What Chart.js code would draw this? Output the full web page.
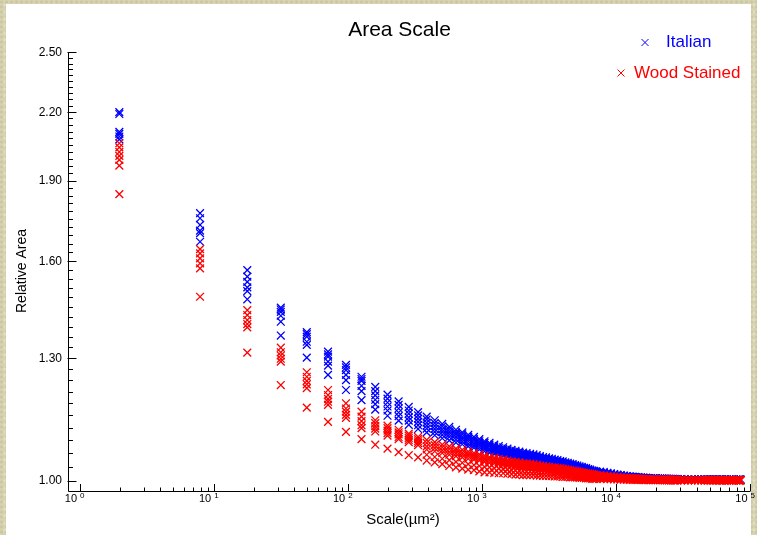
<!DOCTYPE html>
<html>
<head>
<meta charset="utf-8">
<script src="https://cdn.jsdelivr.net/npm/chart.js@4.4.0/dist/chart.umd.min.js"></script>
<style>
  html, body { margin: 0; padding: 0; }
  body {
    width: 757px; height: 535px; position: relative; overflow: hidden;
    background-color: #d7d3b0;
    background-image:
      radial-gradient(circle at 30% 40%, rgba(150,140,100,0.18) 0 1px, transparent 2px),
      radial-gradient(circle at 70% 70%, rgba(255,255,240,0.25) 0 1px, transparent 2px);
    background-size: 5px 5px, 7px 7px;
  }
  #panel { position: absolute; left: 6px; top: 4px; width: 745px; height: 531px; background: #fff; }
  #wrap { position: absolute; left: 0; top: 0; width: 757px; height: 535px; }
</style>
</head>
<body>
<div id="panel"></div>
<div id="wrap"><canvas id="grafica" width="757" height="535"></canvas></div>
<script>
// escala (um^2) de cada columna de puntos
const scaleX = [1.98, 7.92, 17.82, 31.68, 49.5, 71.28, 97.02, 126.7, 160.4, 198,
  239.6, 285.1, 334.6, 388.1, 445.5, 506.9, 572.2, 641.5, 714.8, 792,
  873.2, 958.3, 1047, 1140, 1238, 1338, 1443, 1552, 1665, 1782,
  1903, 2028, 2156, 2289, 2426, 2566, 2711, 2859, 3012, 3168,
  3328, 3493, 3661, 3833, 4010, 4190, 4374, 4562, 4754, 4950,
  5150, 5354, 5562, 5774, 5990, 6209, 6433, 6661, 6892, 7128,
  7611, 8110, 8625, 9156, 9702, 10264, 10842, 11436, 12046, 12672,
  13314, 13971, 14644, 15333, 16038, 16759, 17495, 18248, 19016, 19800,
  20600, 21416, 22247, 23095, 23958, 24837, 25732, 26643, 27570, 28512,
  30444, 32440, 34500, 36622, 38808, 41057, 43370, 45746, 48185, 50688,
  53254, 55884, 58576, 61332, 64152, 67035, 69981, 72991, 76064, 79200,
  82400, 84841];

// area relativa, una fila por columna
const italian = [
  [2.200, 2.191, 2.109, 2.100, 2.088, 2.075],
  [1.772, 1.753, 1.728, 1.707, 1.698, 1.667],
  [1.569, 1.547, 1.530, 1.512, 1.500, 1.474],
  [1.448, 1.442, 1.435, 1.423, 1.405, 1.364],
  [1.374, 1.368, 1.361, 1.346, 1.337, 1.301],
  [1.318, 1.310, 1.304, 1.290, 1.279, 1.254],
  [1.281, 1.274, 1.267, 1.254, 1.240, 1.214],
  [1.249, 1.243, 1.238, 1.225, 1.211, 1.188],
  [1.222, 1.211, 1.200, 1.189, 1.178, 1.164],
  [1.202, 1.192, 1.182, 1.172, 1.162, 1.149],
  [1.185, 1.176, 1.167, 1.157, 1.148, 1.137],
  [1.171, 1.162, 1.154, 1.145, 1.137, 1.127],
  [1.158, 1.150, 1.142, 1.134, 1.126, 1.117],
  [1.147, 1.140, 1.132, 1.125, 1.118, 1.109],
  [1.138, 1.131, 1.124, 1.117, 1.110, 1.102],
  [1.129, 1.123, 1.116, 1.110, 1.103, 1.095],
  [1.122, 1.116, 1.110, 1.104, 1.098, 1.090],
  [1.115, 1.109, 1.104, 1.098, 1.092, 1.085],
  [1.109, 1.104, 1.098, 1.093, 1.087, 1.081],
  [1.103, 1.098, 1.093, 1.088, 1.082, 1.076],
  [1.098, 1.093, 1.088, 1.083, 1.078, 1.073],
  [1.093, 1.088, 1.084, 1.079, 1.074, 1.069],
  [1.088, 1.084, 1.079, 1.075, 1.070, 1.065],
  [1.084, 1.080, 1.076, 1.071, 1.067, 1.062],
  [1.080, 1.076, 1.072, 1.068, 1.064, 1.059],
  [1.077, 1.073, 1.069, 1.065, 1.062, 1.057],
  [1.074, 1.070, 1.067, 1.063, 1.059, 1.055],
  [1.071, 1.067, 1.064, 1.060, 1.057, 1.053],
  [1.068, 1.065, 1.061, 1.058, 1.054, 1.050],
  [1.066, 1.063, 1.059, 1.056, 1.053, 1.049],
  [1.064, 1.061, 1.058, 1.054, 1.051, 1.047],
  [1.062, 1.059, 1.056, 1.053, 1.050, 1.046],
  [1.061, 1.057, 1.054, 1.051, 1.048, 1.045],
  [1.059, 1.056, 1.053, 1.050, 1.047, 1.044],
  [1.058, 1.055, 1.052, 1.049, 1.046, 1.043],
  [1.056, 1.053, 1.050, 1.048, 1.045, 1.041],
  [1.054, 1.051, 1.049, 1.046, 1.043, 1.040],
  [1.052, 1.049, 1.047, 1.044, 1.042, 1.038],
  [1.051, 1.048, 1.045, 1.043, 1.040, 1.037],
  [1.049, 1.047, 1.044, 1.042, 1.039, 1.036],
  [1.048, 1.045, 1.043, 1.040, 1.038, 1.035],
  [1.046, 1.044, 1.041, 1.039, 1.037, 1.034],
  [1.045, 1.042, 1.040, 1.038, 1.036, 1.033],
  [1.043, 1.041, 1.039, 1.037, 1.034, 1.032],
  [1.042, 1.039, 1.037, 1.035, 1.033, 1.031],
  [1.040, 1.038, 1.036, 1.034, 1.032, 1.030],
  [1.039, 1.037, 1.035, 1.033, 1.031, 1.028],
  [1.037, 1.035, 1.033, 1.031, 1.030, 1.027],
  [1.036, 1.034, 1.032, 1.030, 1.028, 1.026],
  [1.034, 1.032, 1.031, 1.029, 1.027, 1.025],
  [1.033, 1.031, 1.029, 1.028, 1.026, 1.024],
  [1.031, 1.029, 1.028, 1.026, 1.025, 1.023],
  [1.030, 1.028, 1.027, 1.025, 1.024, 1.022],
  [1.028, 1.027, 1.025, 1.024, 1.022, 1.021],
  [1.027, 1.025, 1.024, 1.023, 1.021, 1.020],
  [1.025, 1.024, 1.023, 1.021, 1.020, 1.019],
  [1.024, 1.022, 1.021, 1.020, 1.019, 1.017],
  [1.022, 1.021, 1.020, 1.019, 1.018, 1.016],
  [1.021, 1.020, 1.019, 1.018, 1.017, 1.016],
  [1.020, 1.019, 1.018, 1.017, 1.016, 1.015],
  [1.0195, 1.0185, 1.0176, 1.0166, 1.0156, 1.0144],
  [1.0183, 1.0174, 1.0165, 1.0156, 1.0146, 1.0135],
  [1.0170, 1.0162, 1.0153, 1.0145, 1.0136, 1.0126],
  [1.0157, 1.0149, 1.0141, 1.0133, 1.0126, 1.0116],
  [1.0143, 1.0136, 1.0129, 1.0122, 1.0114, 1.0106],
  [1.0130, 1.0124, 1.0117, 1.0111, 1.0104, 1.0096],
  [1.0120, 1.0114, 1.0108, 1.0102, 1.0096, 1.0089],
  [1.0110, 1.0105, 1.0099, 1.0094, 1.0088, 1.0081],
  [1.0100, 1.0095, 1.0090, 1.0085, 1.0080, 1.0074],
  [1.0093, 1.0088, 1.0084, 1.0079, 1.0074, 1.0069],
  [1.0087, 1.0083, 1.0078, 1.0074, 1.0070, 1.0064],
  [1.0080, 1.0076, 1.0072, 1.0068, 1.0064, 1.0059],
  [1.0075, 1.0071, 1.0068, 1.0064, 1.0060, 1.0056],
  [1.0070, 1.0067, 1.0063, 1.0060, 1.0056, 1.0052],
  [1.0065, 1.0062, 1.0059, 1.0055, 1.0052, 1.0048],
  [1.0062, 1.0059, 1.0056, 1.0053, 1.0050, 1.0046],
  [1.0058, 1.0055, 1.0052, 1.0049, 1.0046, 1.0043],
  [1.0055, 1.0052, 1.0050, 1.0047, 1.0044, 1.0041],
  [1.0052, 1.0049, 1.0047, 1.0044, 1.0042, 1.0038],
  [1.0050, 1.0048, 1.0045, 1.0043, 1.0040, 1.0037],
  [1.0048, 1.0046, 1.0043, 1.0041, 1.0038, 1.0036],
  [1.0046, 1.0044, 1.0041, 1.0039, 1.0037, 1.0034],
  [1.0044, 1.0042, 1.0040, 1.0037, 1.0035, 1.0033],
  [1.0042, 1.0040, 1.0038, 1.0036, 1.0034, 1.0031],
  [1.0041, 1.0039, 1.0037, 1.0035, 1.0033, 1.0030],
  [1.0039, 1.0037, 1.0035, 1.0033, 1.0031, 1.0029],
  [1.0038, 1.0036, 1.0034, 1.0032, 1.0030, 1.0028],
  [1.0037, 1.0035, 1.0033, 1.0031, 1.0030, 1.0027],
  [1.0035, 1.0033, 1.0032, 1.0030, 1.0028, 1.0026],
  [1.0034, 1.0032, 1.0031, 1.0029, 1.0027, 1.0025],
  [1.0033, 1.0031, 1.0030, 1.0028, 1.0026, 1.0024],
  [1.0032, 1.0030, 1.0029, 1.0027, 1.0026, 1.0024],
  [1.0031, 1.0029, 1.0028, 1.0026, 1.0025, 1.0023],
  [1.0030, 1.0029, 1.0027, 1.0026, 1.0024, 1.0022],
  [1.0029, 1.0028, 1.0026, 1.0025, 1.0023, 1.0021],
  [1.0028, 1.0027, 1.0025, 1.0024, 1.0022, 1.0021],
  [1.0027, 1.0026, 1.0024, 1.0023, 1.0022, 1.0020],
  [1.0027, 1.0026, 1.0024, 1.0023, 1.0022, 1.0020],
  [1.0026, 1.0025, 1.0023, 1.0022, 1.0021, 1.0019],
  [1.0026, 1.0025, 1.0023, 1.0022, 1.0021, 1.0019],
  [1.0025, 1.0024, 1.0023, 1.0021, 1.0020, 1.0019],
  [1.0025, 1.0024, 1.0023, 1.0021, 1.0020, 1.0019],
  [1.0024, 1.0023, 1.0022, 1.0020, 1.0019, 1.0018],
  [1.0024, 1.0023, 1.0022, 1.0020, 1.0019, 1.0018],
  [1.0024, 1.0023, 1.0022, 1.0020, 1.0019, 1.0018],
  [1.0023, 1.0022, 1.0021, 1.0020, 1.0018, 1.0017],
  [1.0023, 1.0022, 1.0021, 1.0020, 1.0018, 1.0017],
  [1.0023, 1.0022, 1.0021, 1.0020, 1.0018, 1.0017],
  [1.0022, 1.0021, 1.0020, 1.0019, 1.0018, 1.0016],
  [1.0022, 1.0021, 1.0020, 1.0019, 1.0018, 1.0016],
  [1.0022, 1.0021, 1.0020, 1.0019, 1.0018, 1.0016],
  [1.0022, 1.0021, 1.0020, 1.0019, 1.0018, 1.0016]
];

const woodStained = [
  [2.058, 2.040, 2.020, 2.003, 1.986, 1.962, 1.846],
  [1.641, 1.626, 1.609, 1.592, 1.575, 1.482],
  [1.440, 1.425, 1.410, 1.398, 1.388, 1.315],
  [1.329, 1.316, 1.307, 1.298, 1.290, 1.227],
  [1.261, 1.249, 1.238, 1.229, 1.219, 1.169],
  [1.214, 1.201, 1.191, 1.184, 1.176, 1.134],
  [1.180, 1.167, 1.159, 1.151, 1.144, 1.110],
  [1.159, 1.147, 1.136, 1.126, 1.119, 1.093],
  [1.138, 1.131, 1.124, 1.118, 1.111, 1.080],
  [1.125, 1.119, 1.113, 1.107, 1.101, 1.071],
  [1.115, 1.109, 1.104, 1.098, 1.093, 1.063],
  [1.106, 1.101, 1.096, 1.091, 1.086, 1.056],
  [1.098, 1.093, 1.088, 1.084, 1.079, 1.051],
  [1.091, 1.084, 1.076, 1.069, 1.057, 1.044],
  [1.086, 1.079, 1.072, 1.065, 1.052, 1.040],
  [1.080, 1.074, 1.067, 1.061, 1.048, 1.036],
  [1.076, 1.070, 1.063, 1.057, 1.045, 1.032],
  [1.071, 1.066, 1.060, 1.054, 1.041, 1.029],
  [1.068, 1.062, 1.057, 1.051, 1.039, 1.026],
  [1.064, 1.059, 1.054, 1.048, 1.036, 1.024],
  [1.061, 1.056, 1.051, 1.046, 1.034, 1.023],
  [1.058, 1.053, 1.048, 1.044, 1.032, 1.020],
  [1.055, 1.050, 1.046, 1.041, 1.030, 1.018],
  [1.052, 1.048, 1.044, 1.039, 1.029, 1.018],
  [1.050, 1.046, 1.042, 1.038, 1.027, 1.017],
  [1.048, 1.044, 1.040, 1.036, 1.026, 1.016],
  [1.046, 1.042, 1.038, 1.035, 1.025, 1.016],
  [1.044, 1.040, 1.037, 1.033, 1.024, 1.015],
  [1.042, 1.039, 1.035, 1.032, 1.023, 1.014],
  [1.041, 1.038, 1.034, 1.031, 1.022, 1.013],
  [1.040, 1.036, 1.033, 1.030, 1.021, 1.013],
  [1.038, 1.035, 1.032, 1.029, 1.021, 1.012],
  [1.038, 1.034, 1.031, 1.028, 1.020, 1.012],
  [1.037, 1.034, 1.031, 1.028, 1.020, 1.012],
  [1.036, 1.033, 1.030, 1.027, 1.019, 1.012],
  [1.035, 1.032, 1.029, 1.026, 1.019, 1.011],
  [1.033, 1.031, 1.028, 1.025, 1.018, 1.011],
  [1.032, 1.030, 1.027, 1.024, 1.017, 1.010],
  [1.031, 1.029, 1.026, 1.024, 1.017, 1.010],
  [1.030, 1.028, 1.025, 1.023, 1.016, 1.010],
  [1.029, 1.027, 1.025, 1.022, 1.016, 1.010],
  [1.029, 1.026, 1.024, 1.022, 1.015, 1.009],
  [1.028, 1.025, 1.023, 1.021, 1.015, 1.009],
  [1.027, 1.025, 1.022, 1.020, 1.014, 1.009],
  [1.026, 1.024, 1.022, 1.020, 1.014, 1.008],
  [1.025, 1.023, 1.021, 1.019, 1.013, 1.008],
  [1.024, 1.022, 1.020, 1.018, 1.013, 1.008],
  [1.023, 1.021, 1.019, 1.017, 1.012, 1.007],
  [1.022, 1.020, 1.018, 1.017, 1.012, 1.007],
  [1.021, 1.019, 1.018, 1.016, 1.011, 1.007],
  [1.020, 1.019, 1.017, 1.015, 1.011, 1.007],
  [1.019, 1.018, 1.016, 1.015, 1.010, 1.006],
  [1.018, 1.017, 1.015, 1.014, 1.010, 1.006],
  [1.017, 1.016, 1.015, 1.013, 1.009, 1.006],
  [1.016, 1.015, 1.014, 1.012, 1.009, 1.005],
  [1.016, 1.014, 1.013, 1.012, 1.008, 1.005],
  [1.015, 1.013, 1.012, 1.011, 1.008, 1.005],
  [1.014, 1.013, 1.011, 1.010, 1.007, 1.004],
  [1.013, 1.012, 1.011, 1.010, 1.007, 1.004],
  [1.012, 1.011, 1.010, 1.009, 1.007, 1.004],
  [1.0121, 1.0105, 1.0092, 1.0065, 1.0039],
  [1.0113, 1.0099, 1.0086, 1.0061, 1.0037],
  [1.0105, 1.0092, 1.0080, 1.0057, 1.0034],
  [1.0097, 1.0085, 1.0074, 1.0053, 1.0031],
  [1.0089, 1.0077, 1.0067, 1.0048, 1.0029],
  [1.0081, 1.0070, 1.0061, 1.0044, 1.0026],
  [1.0074, 1.0065, 1.0056, 1.0040, 1.0024],
  [1.0068, 1.0059, 1.0052, 1.0037, 1.0022],
  [1.0062, 1.0054, 1.0047, 1.0034, 1.0020],
  [1.0058, 1.0050, 1.0044, 1.0031, 1.0019],
  [1.0054, 1.0047, 1.0041, 1.0029, 1.0017],
  [1.0050, 1.0043, 1.0038, 1.0027, 1.0016],
  [1.0047, 1.0041, 1.0035, 1.0025, 1.0015],
  [1.0043, 1.0038, 1.0033, 1.0023, 1.0014],
  [1.0040, 1.0035, 1.0031, 1.0022, 1.0013],
  [1.0038, 1.0033, 1.0029, 1.0021, 1.0012],
  [1.0036, 1.0031, 1.0027, 1.0019, 1.0012],
  [1.0034, 1.0030, 1.0026, 1.0018, 1.0011],
  [1.0032, 1.0028, 1.0024, 1.0017, 1.0010],
  [1.0031, 1.0027, 1.0024, 1.0017, 1.0010],
  [1.0030, 1.0026, 1.0023, 1.0016, 1.0010],
  [1.0029, 1.0025, 1.0022, 1.0015, 1.0009],
  [1.0027, 1.0024, 1.0021, 1.0015, 1.0009],
  [1.0026, 1.0023, 1.0020, 1.0014, 1.0008],
  [1.0025, 1.0022, 1.0019, 1.0014, 1.0008],
  [1.0024, 1.0021, 1.0018, 1.0013, 1.0008],
  [1.0024, 1.0021, 1.0018, 1.0013, 1.0008],
  [1.0023, 1.0020, 1.0017, 1.0012, 1.0007],
  [1.0022, 1.0019, 1.0016, 1.0012, 1.0007],
  [1.0021, 1.0018, 1.0016, 1.0011, 1.0007],
  [1.0020, 1.0018, 1.0016, 1.0011, 1.0007],
  [1.0020, 1.0017, 1.0015, 1.0011, 1.0006],
  [1.0019, 1.0017, 1.0015, 1.0010, 1.0006],
  [1.0019, 1.0016, 1.0014, 1.0010, 1.0006],
  [1.0018, 1.0016, 1.0014, 1.0010, 1.0006],
  [1.0017, 1.0015, 1.0013, 1.0009, 1.0006],
  [1.0017, 1.0015, 1.0013, 1.0009, 1.0005],
  [1.0017, 1.0015, 1.0013, 1.0009, 1.0005],
  [1.0016, 1.0014, 1.0012, 1.0009, 1.0005],
  [1.0016, 1.0014, 1.0012, 1.0009, 1.0005],
  [1.0016, 1.0014, 1.0012, 1.0008, 1.0005],
  [1.0016, 1.0014, 1.0012, 1.0008, 1.0005],
  [1.0015, 1.0013, 1.0011, 1.0008, 1.0005],
  [1.0015, 1.0013, 1.0011, 1.0008, 1.0005],
  [1.0015, 1.0013, 1.0011, 1.0008, 1.0005],
  [1.0014, 1.0012, 1.0011, 1.0008, 1.0005],
  [1.0014, 1.0012, 1.0011, 1.0008, 1.0005],
  [1.0014, 1.0012, 1.0011, 1.0008, 1.0005],
  [1.0014, 1.0012, 1.0010, 1.0007, 1.0004],
  [1.0014, 1.0012, 1.0010, 1.0007, 1.0004],
  [1.0014, 1.0012, 1.0010, 1.0007, 1.0004],
  [1.0014, 1.0012, 1.0010, 1.0007, 1.0004]
];

const yTicks = [1.00, 1.30, 1.60, 1.90, 2.20, 2.50];
const xTicks = [1, 10, 100, 1000, 10000, 100000];
const xExponents = ['0', '1', '2', '3', '4', '5'];

// pasa las columnas a puntos {x, y}
function puntos(serie) {
  const pts = [];
  serie.forEach((col, i) => {
    col.forEach(v => pts.push({ x: scaleX[i], y: v }));
  });
  return pts;
}

function cruz(ctx, x, y, r, color) {
  ctx.strokeStyle = color;
  ctx.beginPath();
  ctx.moveTo(x - r, y - r); ctx.lineTo(x + r, y + r);
  ctx.moveTo(x - r, y + r); ctx.lineTo(x + r, y - r);
  ctx.stroke();
}

// ejes con marcas hacia adentro, textos y leyenda
const ejes = {
  id: 'ejes',
  beforeDatasetsDraw(chart) {
    const { ctx, chartArea: a, scales: { x, y } } = chart;
    const left = Math.round(a.left) + 0.5;
    const bottom = Math.floor(a.bottom) + 0.5;
    ctx.save();
    ctx.strokeStyle = '#000';
    ctx.lineWidth = 1;
    ctx.beginPath();
    ctx.moveTo(left, a.top);
    ctx.lineTo(left, bottom);
    ctx.lineTo(a.right, bottom);
    // eje y: marcas menores cada 0.03
    for (let v = 1.03; v < 2.5; v += 0.03) {
      const py = Math.round(y.getPixelForValue(v)) + 0.5;
      ctx.moveTo(left, py); ctx.lineTo(left + 4.5, py);
    }
    yTicks.forEach(v => {
      const py = Math.round(y.getPixelForValue(v)) + 0.5;
      ctx.moveTo(left - 1, py); ctx.lineTo(left + 8, py);
    });
    // eje x: decadas y marcas 2..9
    xTicks.forEach((v, i) => {
      const px = Math.round(x.getPixelForValue(v)) + 0.5;
      ctx.moveTo(px, bottom); ctx.lineTo(px, bottom - 7.5);
      if (i < xTicks.length - 1) {
        for (let m = 2; m <= 9; m++) {
          const pm = Math.round(x.getPixelForValue(v * m)) + 0.5;
          ctx.moveTo(pm, bottom); ctx.lineTo(pm, bottom - 4);
        }
      }
    });
    ctx.stroke();
    ctx.restore();
  },
  afterDraw(chart) {
    const { ctx, chartArea: a, scales: { x, y } } = chart;
    ctx.save();
    ctx.fillStyle = '#000';
    // etiquetas eje y
    ctx.font = '12px "Liberation Sans", Arial, sans-serif';
    ctx.textAlign = 'right';
    ctx.textBaseline = 'middle';
    yTicks.forEach(v => {
      ctx.fillText(v.toFixed(2), 62, y.getPixelForValue(v) + 0.5);
    });
    // etiquetas eje x: 10 con exponente
    xTicks.forEach((v, i) => {
      const px = x.getPixelForValue(v);
      ctx.font = '11px "Liberation Sans", Arial, sans-serif';
      ctx.textAlign = 'right';
      ctx.textBaseline = 'top';
      ctx.fillText('10', px - 2.5, a.bottom + 2);
      ctx.font = '8px "Liberation Sans", Arial, sans-serif';
      ctx.textAlign = 'left';
      ctx.fillText(xExponents[i], px + 0.5, a.bottom + 0.5);
    });
    // titulos
    ctx.textAlign = 'center';
    ctx.textBaseline = 'middle';
    ctx.font = '21px "Liberation Sans", Arial, sans-serif';
    ctx.fillText('Area Scale', 399.5, 30);
    ctx.font = '15px "Liberation Sans", Arial, sans-serif';
    ctx.fillText('Scale(\u00b5m\u00b2)', 403, 520);
    ctx.save();
    ctx.translate(22, 271);
    ctx.rotate(-Math.PI / 2);
    ctx.font = '14px "Liberation Sans", Arial, sans-serif';
    ctx.fillText('Relative Area', 0, 0);
    ctx.restore();
    // leyenda
    ctx.lineWidth = 1;
    cruz(ctx, 645, 42.5, 3.5, '#0000ff');
    cruz(ctx, 621, 73, 3.5, '#ff0000');
    ctx.font = '17px "Liberation Sans", Arial, sans-serif';
    ctx.textAlign = 'left';
    ctx.fillStyle = '#0000ff';
    ctx.fillText('Italian', 666, 42.5);
    ctx.fillStyle = '#ff0000';
    ctx.fillText('Wood Stained', 634, 73);
    ctx.restore();
  }
};

const ctx = document.getElementById('grafica').getContext('2d');
const miGrafica = new Chart(ctx, {
  type: 'scatter',
  data: {
    datasets: [{
      label: 'Wood Stained',
      data: puntos(woodStained),
      pointStyle: 'crossRot',
      pointRadius: 5.5,
      pointBorderWidth: 1.3,
      pointBorderColor: '#ff0000',
      pointBackgroundColor: '#ff0000',
      order: 0
    }, {
      label: 'Italian',
      data: puntos(italian),
      pointStyle: 'crossRot',
      pointRadius: 5.5,
      pointBorderWidth: 1.3,
      pointBorderColor: '#0000ff',
      pointBackgroundColor: '#0000ff',
      order: 1
    }]
  },
  options: {
    responsive: false,
    animation: false,
    events: [],
    layout: { padding: { left: 68, right: 7, top: 52.3, bottom: 43.3 } },
    scales: {
      x: { type: 'logarithmic', min: 0.82, max: 100000, display: false },
      y: { type: 'logarithmic', min: 0.9767, max: 2.5, display: false }
    },
    plugins: { legend: { display: false }, tooltip: { enabled: false } }
  },
  plugins: [ejes]
});
</script>
</body>
</html>
